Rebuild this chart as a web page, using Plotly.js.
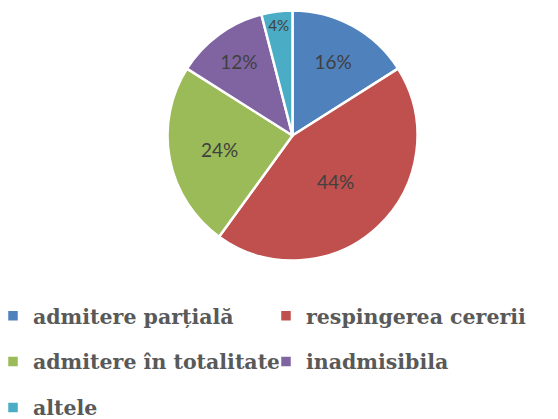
<!DOCTYPE html>
<html>
<head>
<meta charset="utf-8">
<script src="https://cdn.plot.ly/plotly-3.0.1.min.js"></script>
<style>html,body{margin:0;padding:0;background:#fff;}#chart{width:558px;height:419px;}</style>
</head>
<body>
<div id="chart"></div>
<script>
const categories = ["admitere parțială", "respingerea cererii", "admitere în totalitate", "inadmisibila", "altele"];
const values = [16, 44, 24, 12, 4];
const colors = ["#4F81BD", "#C0504D", "#9BBB59", "#8064A2", "#4BACC6"];

// legend rows in the reference are widely spaced: use a tall legend line with normal-size text
const legendLabels = categories.map(c => '<span style="font-size:20.5px;baseline-shift:5px">' + c + '</span>');

const trace = {
  type: "pie",
  labels: legendLabels,
  values: values,
  sort: false,
  direction: "clockwise",
  rotation: 0,
  marker: {colors: colors, line: {color: "#ffffff", width: 2.5}},
  texttemplate: "%{percent:.0%}",
  textposition: "inside",
  insidetextorientation: "horizontal",
  textfont: {family: "Lato, 'Open Sans', sans-serif", size: 19, color: "#404040"},
  hoverinfo: "percent",
  domain: {x: [0.3002, 0.7482], y: [0.378, 0.975]}
};

const layout = {
  width: 558, height: 419,
  margin: {l: 0, r: 0, t: 0, b: 0, autoexpand: false},
  paper_bgcolor: "#ffffff",
  showlegend: true,
  legend: {
    orientation: "h",
    x: 0, xanchor: "left",
    y: -0.04, yanchor: "bottom",
    bgcolor: "rgba(0,0,0,0)",
    indentation: -7,
    entrywidth: 235, entrywidthmode: "pixels",
    font: {family: "'DejaVu Serif', serif", size: 33, color: "#595959", weight: "bold"},
    itemwidth: 30,
    traceorder: "normal"
  }
};

Plotly.newPlot("chart", [trace], layout, {displayModeBar: false, staticPlot: true});
</script>
</body>
</html>
